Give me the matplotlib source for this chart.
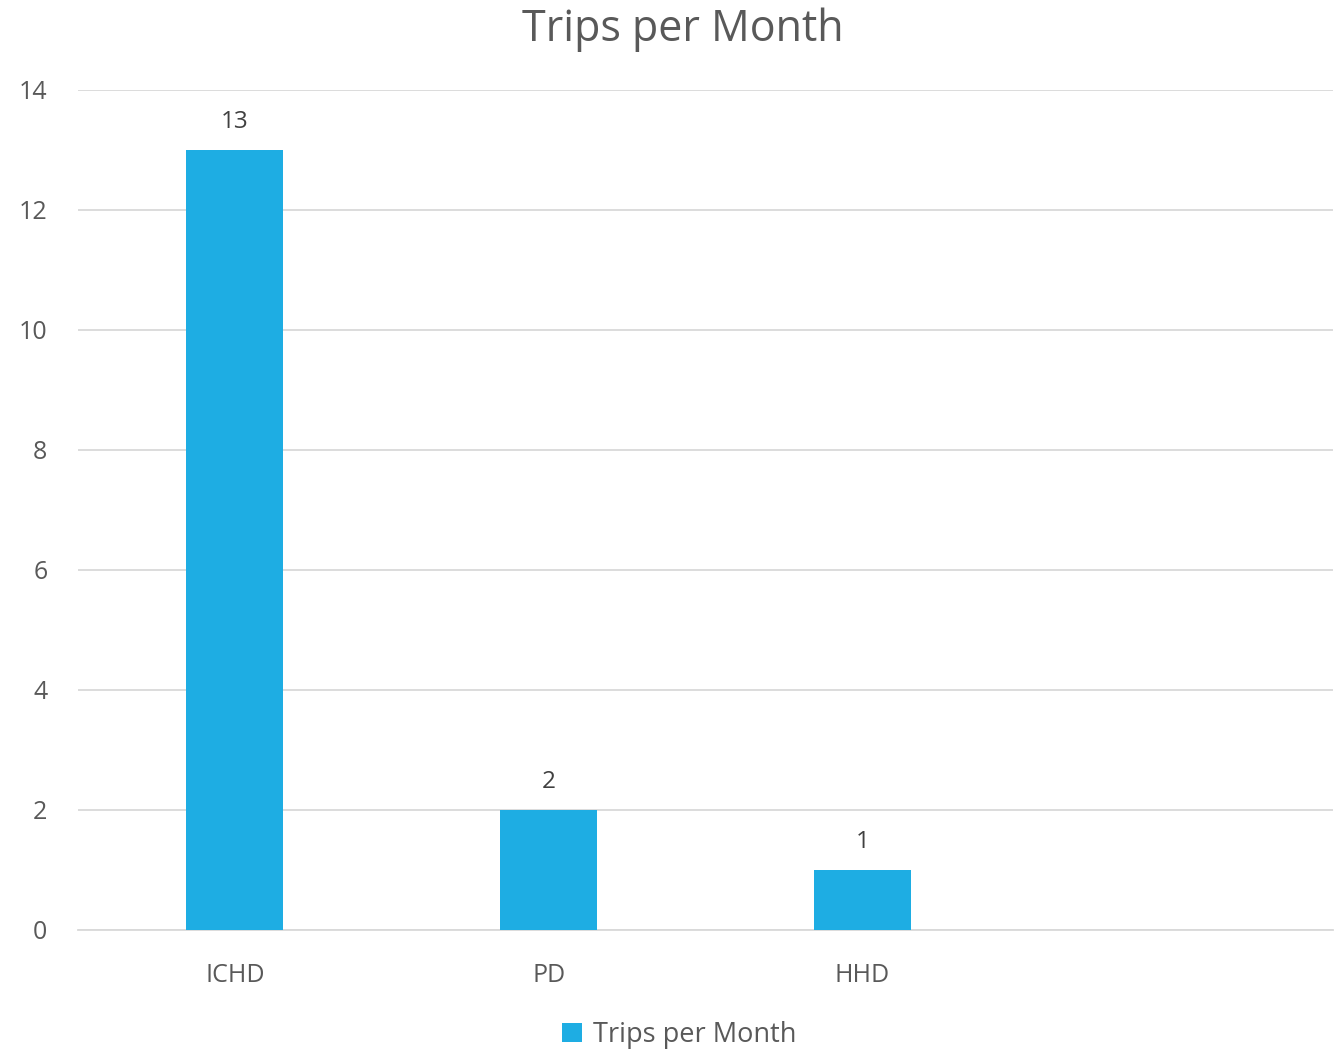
import matplotlib
matplotlib.use("Agg")
import matplotlib.pyplot as plt
import numpy as np

categories = ["ICHD", "PD", "HHD"]
trips = [13, 2, 1]
y_ticks = [0, 2, 4, 6, 8, 10, 12, 14]
n_slots = 4  # the category axis leaves room for one empty slot on the right

TEXT = "#595959"
BAR = "#1EADE3"
GRID = "#D9D9D9"

plt.rcParams["font.family"] = ["Open Sans", "DejaVu Sans"]

fig = plt.figure(figsize=(13.37, 10.55), dpi=100)
ax = fig.add_axes([0.0583, 0.1185, 0.9387, 0.7962])

x = np.arange(len(categories))
bars = ax.bar(x, trips, width=0.31, color=BAR, label="Trips per Month", zorder=3)
for xi, v in zip(x, trips):
    ax.text(xi, v + 0.27, f"{v}", ha="center", va="bottom", fontsize=17.5, color="#404040")

ax.set_xlim(-0.5, n_slots - 0.5)
ax.set_ylim(0, 14)
ax.set_yticks(y_ticks)
ax.set_xticks(x)
ax.set_xticklabels(categories)
ax.tick_params(axis="both", length=0, labelsize=18, labelcolor=TEXT)
ax.tick_params(axis="x", pad=24)
ax.tick_params(axis="y", pad=22)
for lab in ax.get_yticklabels():
    lab.set_horizontalalignment("right")

ax.grid(axis="y", color=GRID, linewidth=1.3, zorder=0)
for s in ["top", "right", "left"]:
    ax.spines[s].set_visible(False)
ax.spines["bottom"].set_color(GRID)
ax.spines["bottom"].set_linewidth(1.3)

fig.text(0.511, 0.972, "Trips per Month", ha="center", va="center", fontsize=31, color=TEXT)
fig.legend(handles=[bars], labels=["Trips per Month"], loc="center",
           bbox_to_anchor=(0.508, 0.019), frameon=False, fontsize=19.5,
           handlelength=0.75, handleheight=0.75, handletextpad=0.4, labelcolor=TEXT)

fig.savefig("out.png", dpi=100)
